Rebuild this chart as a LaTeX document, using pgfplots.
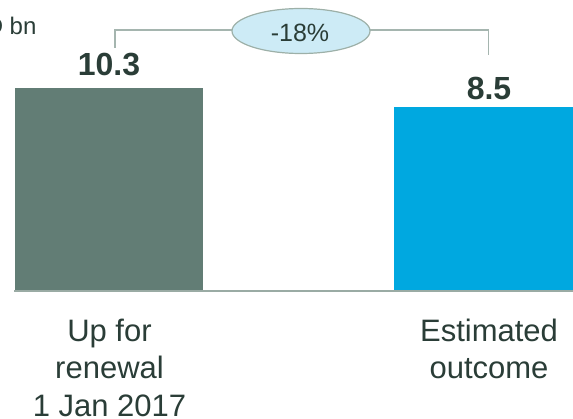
\documentclass[border=0pt]{standalone}
\usepackage{fontspec}
\setmainfont{Liberation Sans}
\usepackage{pgfplots}
\pgfplotsset{compat=1.18}
\definecolor{barA}{HTML}{627D75}
\definecolor{barB}{HTML}{00A8E0}
\definecolor{txt}{HTML}{2A3D37}
\definecolor{brk}{HTML}{A5B5AF}
\definecolor{ell}{HTML}{CDEBF6}
\definecolor{ellb}{HTML}{9DB0A8}
\definecolor{base}{HTML}{9AABA4}
\begin{document}
\begin{tikzpicture}[x=1pt,y=1pt]
\useasboundingbox (0,0) rectangle (573,418);
\begin{axis}[at={(0,0)}, anchor=south west, scale only axis,
  width=573pt, height=418pt, xmin=0, xmax=573,
  ymin=-20.933, ymax=18.665, hide axis, clip=false]
% bars: category, value (axis is not zero-based, baseline at -8.855)
\addplot[fill=barA, draw=none, mark=none] coordinates {(15.3,-8.855) (15.3,10.3) (203,10.3) (203,-8.855)} -- cycle;
\addplot[fill=barB, draw=none, mark=none] coordinates {(394,-8.855) (394,8.5) (582,8.5) (582,-8.855)} -- cycle;
\draw[base, line width=1.8pt] (axis cs:14,-8.9) -- (axis cs:590,-8.9);
\node[anchor=base, text=txt, font=\bfseries\fontsize{32}{38}\selectfont, yshift=12.3pt] at (axis cs:109,10.3) {10.3};
\node[anchor=base, text=txt, font=\bfseries\fontsize{32}{38}\selectfont, yshift=8.3pt] at (axis cs:489,8.5) {8.5};
\end{axis}
% unit label
\node[anchor=base east, text=txt, font=\fontsize{24}{28}\selectfont] at (40,383) {USD bn};
% bracket
\draw[brk, line width=1.5pt] (115,370) -- (115,388) -- (488.7,388) -- (488.7,363);
\draw[ellb, fill=ell, line width=1.2pt] (301,387) ellipse [x radius=69, y radius=22.5];
\node[anchor=base, text=txt, font=\fontsize{25}{30}\selectfont] at (300,376) {-18\%};
% category labels
\begin{scope}[every node/.style={anchor=base, text=txt, font=\fontsize{31}{39}\selectfont}]
\node at (109.5,77) {Up for};
\node at (109.5,39.5) {renewal};
\node at (109.5,2) {1 Jan 2017};
\node at (489,77) {Estimated};
\node at (489,39.5) {outcome};
\end{scope}
\end{tikzpicture}
\end{document}
